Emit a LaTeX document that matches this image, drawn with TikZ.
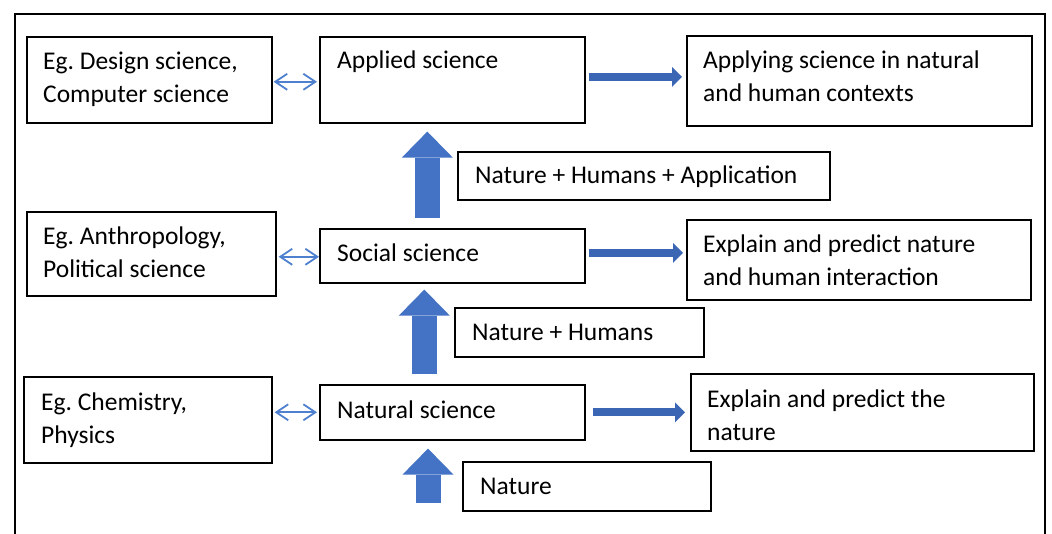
\documentclass[tikz,border=0pt]{standalone}
\usepackage{fontspec}
\setmainfont{Carlito}
\usetikzlibrary{arrows.meta}
\definecolor{arrblue}{HTML}{4472C4}
\definecolor{arrdark}{HTML}{3B66B4}
\definecolor{dblblue}{HTML}{4F80CF}
\frenchspacing

\begin{document}
\begin{tikzpicture}[x=1pt,y=-1pt,
	box/.style={draw, line width=1.6pt, anchor=north west, inner sep=0pt},
	txt/.style={anchor=base west, inner sep=0pt, align=left, font=\fontsize{25.5}{33}\selectfont},
	uparr/.style={arrblue, line width=25pt, -{Triangle[length=26pt,width=51pt,line width=0pt]}},
	rtarr/.style={arrdark, line width=8pt, -{Triangle[length=10pt,width=20pt,line width=0pt]}},
	dblarr/.style={dblblue, line width=1.8pt, {Straight Barb[length=12pt,width=16pt]}-{Straight Barb[length=12pt,width=16pt]}}]
	
	% 画布大小
	\useasboundingbox (0,0) rectangle (1052,534);
	
	% 外框 (底边不画)
	\draw[line width=2pt] (15,534) -- (15,14) -- (1045,14) -- (1045,534);
	
	% 左列: 举例
	\node[box, minimum width=245pt, minimum height=86pt] (des) at (26,36) {}; % 设计科学
	\node[box, minimum width=249pt, minimum height=84pt] (ant) at (26,211) {}; % 人类学
	\node[box, minimum width=248pt, minimum height=86pt] (che) at (23,376) {}; % 化学
	
	% 中列: 三类科学
	\node[box, minimum width=265pt, minimum height=86pt] (app) at (319,36) {}; % 应用科学
	\node[box, minimum width=265pt, minimum height=54pt] (soc) at (319,228) {}; % 社会科学
	\node[box, minimum width=265pt, minimum height=55pt] (nat) at (319,384) {}; % 自然科学
	
	% 右列: 作用
	\node[box, minimum width=345pt, minimum height=90pt] (ctx) at (686,35) {};
	\node[box, minimum width=344pt, minimum height=80pt] (inter) at (686,219) {};
	\node[box, minimum width=343pt, minimum height=77pt] (pred) at (690,373) {};
	
	% 箭头旁的说明框
	\node[box, minimum width=372pt, minimum height=48pt] (lbthree) at (457,151) {};
	\node[box, minimum width=249pt, minimum height=49pt] (lbtwo) at (454,307) {};
	\node[box, minimum width=248pt, minimum height=49pt] (lbone) at (462,461) {};
	
	% 文字 (两行的以第二行基线定位)
	\node[txt] (desT) at (43,103) {Eg. Design science,\\Computer science};
	\node[txt] (antT) at (43,278) {Eg. Anthropology,\\Political science};
	\node[txt] (cheT) at (41,443) {Eg. Chemistry,\\Physics};
	\node[txt] (appT) at (337,69) {Applied science};
	\node[txt] (socT) at (337,262) {Social science};
	\node[txt] (natT) at (337,418) {Natural science};
	\node[txt] (ctxT) at (703,102) {Applying science in natural\\and human contexts};
	\node[txt] (interT) at (703,286) {Explain and predict nature\\and human interaction};
	\node[txt] (predT) at (707,440) {Explain and predict the\\nature};
	\node[txt] (lbthreeT) at (475,184) {Nature + Humans + Application};
	\node[txt] (lbtwoT) at (472,341) {Nature + Humans};
	\node[txt] (lboneT) at (480,494) {Nature};
	
	% 向上的粗箭头
	\coordinate (base) at (428,503); % 最下面箭头的起点
	\draw[uparr, shorten <=10pt, shorten >=8pt] ([xshift=-25pt]soc.north) -- ([xshift=-25pt]app.south);
	\draw[uparr, shorten <=10pt, shorten >=6pt] ([xshift=-28pt]nat.north) -- ([xshift=-28pt]soc.south);
	\draw[uparr, shorten >=8pt] (base) -- (base |- nat.south);
	
	% 向右的箭头
	\draw[rtarr, shorten <=3pt, shorten >=4pt] ([yshift=3pt]app.east) -- ([yshift=3pt]app.east -| ctx.west);
	\draw[rtarr, shorten <=3pt, shorten >=3pt] ([yshift=3pt]soc.east) -- ([yshift=3pt]soc.east -| inter.west);
	\draw[rtarr, shorten <=7pt, shorten >=5pt] (nat.east) -- (nat.east -| pred.west);
	
	% 双向箭头
	\draw[dblarr, shorten <=1pt, shorten >=2pt] ([yshift=-2pt]des.east) -- ([yshift=-2pt]app.west);
	\draw[dblarr, shorten <=2pt] ([yshift=-1pt]ant.east |- soc.west) -- ([yshift=-1pt]soc.west);
	\draw[dblarr, shorten <=2pt, shorten >=2pt] (che.east |- nat.west) -- (nat.west);
	
\end{tikzpicture}
\end{document}
